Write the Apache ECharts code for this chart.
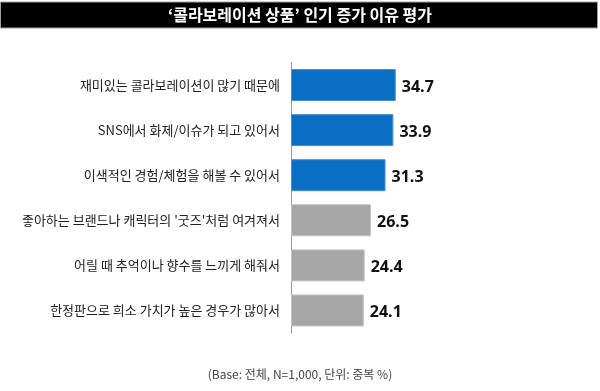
<!DOCTYPE html>
<html><head><meta charset="utf-8">
<script src="https://cdn.jsdelivr.net/npm/echarts@6/dist/echarts.min.js"></script>
<style>html,body{margin:0;padding:0;background:#fff}#c{width:600px;height:391px}</style>
</head><body><div id="c"></div>
<script>
const categories = [
  '재미있는 콜라보레이션이 많기 때문에',
  'SNS에서 화제/이슈가 되고 있어서',
  '이색적인 경험/체험을 해볼 수 있어서',
  "좋아하는 브랜드나 캐릭터의 '굿즈'처럼 여겨져서",
  '어릴 때 추억이나 향수를 느끼게 해줘서',
  '한정판으로 희소 가치가 높은 경우가 많아서'
];
const values = [34.7, 33.9, 31.3, 26.5, 24.4, 24.1];
const titleText = "‘콜라보레이션 상품’ 인기 증가 이유 평가";
const noteText = '(Base: 전체, N=1,000, 단위: 중복 %)';

const chart = echarts.init(document.getElementById('c'));
const KR = '"Noto Sans CJK KR", "Noto Sans", sans-serif';
chart.setOption({
  animation: false,
  grid: {left: 291, top: 62.5, width: 151, height: 270.5},
  xAxis: {type: 'value', min: 0, max: 50, show: false},
  yAxis: {
    type: 'category', data: categories, inverse: true,
    axisLine: {show: true, lineStyle: {color: '#9a9a9a', width: 1}},
    axisTick: {show: false},
    axisLabel: {color: '#222', fontSize: 13, margin: 11, fontFamily: KR}
  },
  series: [{
    type: 'bar', barWidth: 32,
    data: values.map((v, i) => ({
      value: v,
      itemStyle: i < 3
        ? {color: '#0a6fc4', borderColor: '#4a90d0', borderWidth: 1}
        : {color: '#a6a6a6', borderColor: '#c4c4c4', borderWidth: 1}
    })),
    label: {
      show: true, position: 'right', distance: 6, offset: [0, 2],
      color: '#111', fontSize: 16, fontWeight: 'bold',
      fontFamily: '"Open Sans", "Noto Sans", sans-serif'
    }
  }],
  graphic: [
    {type: 'rect', shape: {x: 0.5, y: 2, width: 597, height: 26},
     style: {fill: '#000', stroke: '#a0a0a0', lineWidth: 1}, z: 1},
    {type: 'text', x: 300, y: 15, z: 2,
     style: {text: titleText, fill: '#fff', fontSize: 16, fontWeight: 'bold',
             fontFamily: KR, align: 'center', verticalAlign: 'middle'}},
    {type: 'text', x: 300, y: 374, z: 2,
     style: {text: noteText, fill: '#444', fontSize: 12, fontFamily: KR,
             align: 'center', verticalAlign: 'middle'}}
  ]
});
</script></body></html>
